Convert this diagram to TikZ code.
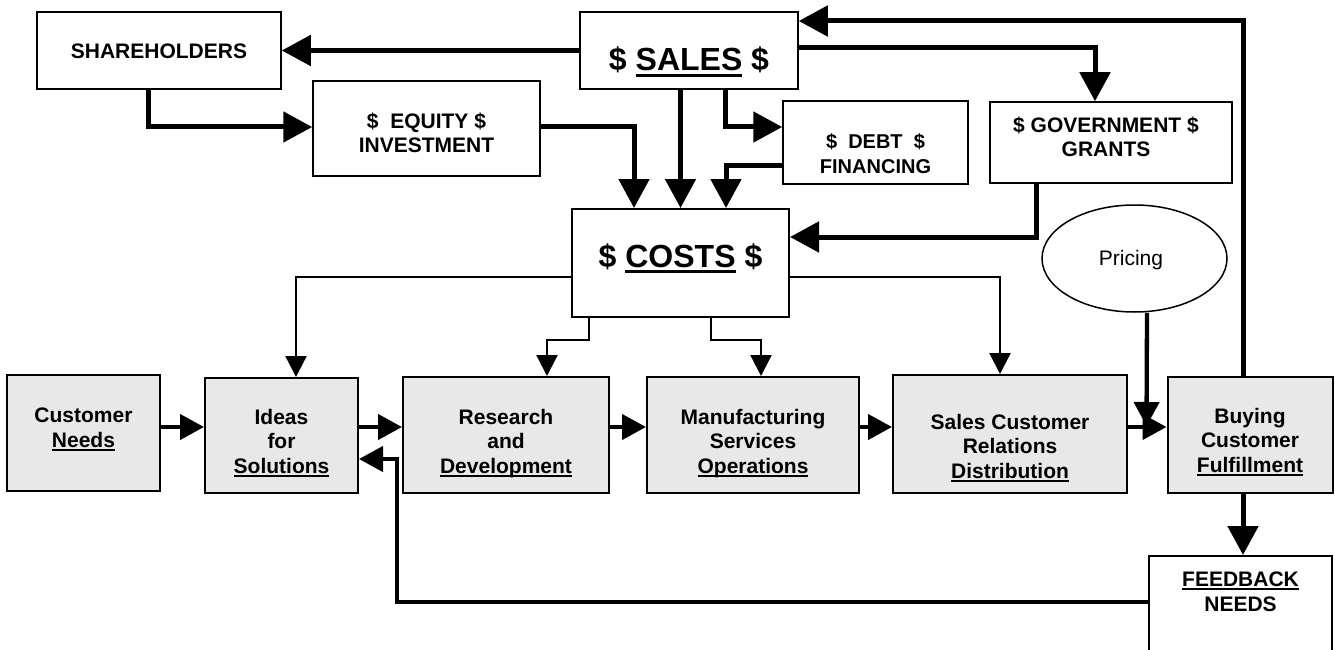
\documentclass[tikz,border=0pt]{standalone}
\usepackage{fontspec}
\setmainfont{Liberation Sans}
\usetikzlibrary{arrows.meta,shapes.geometric}
\definecolor{boxgray}{RGB}{232,232,232}
\newsavebox\ulbox
\newcommand{\ulw}[1]{\sbox\ulbox{#1}\rlap{\rule[-0.19em]{\wd\ulbox}{0.1em}}\usebox\ulbox}
\begin{document}
\begin{tikzpicture}[x=1pt,y=-1pt,
  box/.style={draw, line width=1.5pt, inner sep=0pt},
  gbox/.style={draw, fill=boxgray, line width=2pt, inner sep=0pt},
  lbl/.style={font=\fontsize{21}{24}\selectfont\bfseries, align=center, anchor=base, inner sep=0pt},
  dlbl/.style={font=\fontsize{20}{25}\selectfont\bfseries, align=center, anchor=base, inner sep=0pt},
  biglbl/.style={font=\fontsize{32}{36}\selectfont\bfseries, align=center, anchor=base, inner sep=0pt},
  blbl/.style={font=\fontsize{21}{24.5}\selectfont\bfseries, align=center, anchor=base, inner sep=0pt},
  plbl/.style={font=\fontsize{21}{24}\selectfont, anchor=base, inner sep=0pt},
  thk/.style={line width=5pt, -{Triangle[length=29pt,width=30pt]}},
  midar/.style={line width=4.3pt, -{Triangle[length=24pt,width=25pt]}},
  thn/.style={line width=2.3pt, -{Triangle[length=21pt,width=21pt]}}]
\useasboundingbox (0,0) rectangle (1335,650);
% boxes
\node[box, minimum width=244, minimum height=77] (sh) at (159,50.5) {};
\node[box, minimum width=218, minimum height=77] (sales) at (689,50.5) {};
\node[box, minimum width=227, minimum height=95] (eq) at (426.5,128.5) {};
\node[box, minimum width=185, minimum height=83] (debt) at (875.5,142.5) {};
\node[box, minimum width=242, minimum height=81] (gov) at (1111,142.5) {};
\node[box, line width=2pt, minimum width=217, minimum height=108] (costs) at (680.5,263) {};
\node[draw, ellipse, line width=1.5pt, inner sep=0pt, minimum width=185, minimum height=107] (pricing) at (1134.5,258.5) {};
\node[gbox, minimum width=153, minimum height=116] (cn) at (83.5,433) {};
\node[gbox, minimum width=153, minimum height=115] (ideas) at (281.5,435.5) {};
\node[gbox, minimum width=206, minimum height=116] (rd) at (506,435) {};
\node[gbox, minimum width=212, minimum height=116] (mfg) at (753,435) {};
\node[gbox, minimum width=234, minimum height=118] (scr) at (1010,434) {};
\node[gbox, minimum width=165, minimum height=116] (buy) at (1250,435) {};
\node[box, line width=2pt, minimum width=183, minimum height=120] (fb) at (1240.5,616) {};
% labels (multi-line: base = last line baseline)
\node[lbl] (shT) at (159,59) {SHAREHOLDERS};
\node[biglbl] (salesT) at (689,71) {\$ \ulw{SALES} \$};
\node[lbl] (eqT) at (426.5,152) {\$\ \ EQUITY \$\\INVESTMENT};
\node[dlbl] (debtT) at (875.5,173) {\$\ \ DEBT\ \ \$\\FINANCING};
\node[lbl] (govT) at (1106,156) {\$ GOVERNMENT \$\\GRANTS};
\node[biglbl] (costsT) at (680.5,267) {\$ \ulw{COSTS} \$};
\node[plbl] (priceT) at (1131,265) {Pricing};
\node[blbl] (cnT) at (83.5,447) {Customer\\\ulw{Needs}};
\node[blbl] (ideasT) at (281.5,473) {Ideas\\for\\\ulw{Solutions}};
\node[blbl] (rdT) at (506,473) {Research\\and\\\ulw{Development}};
\node[blbl] (mfgT) at (753,473) {Manufacturing\\Services\\\ulw{Operations}};
\node[blbl] (scrT) at (1010,478) {Sales Customer\\Relations\\\ulw{Distribution}};
\node[blbl] (buyT) at (1250,472) {Buying\\Customer\\\ulw{Fulfillment}};
\node[blbl] (fbT) at (1240.5,611) {\ulw{FEEDBACK}\\NEEDS};
% thick connectors
\draw[thk] (sales.west) -- (sh.east);
\draw[thk] ([xshift=-11]sh.south) |- ([yshift=1.5]eq.west);
\draw[thk] ([yshift=1.5]eq.east) -| ([xshift=-46.5]costs.north);
\draw[thk] (costs.north |- sales.south) -- (costs.north);
\draw[thk] ([xshift=36]sales.south) |- ([yshift=15.5]debt.west);
\draw[thk] ([yshift=-22.5]debt.west) -| ([xshift=45.5]costs.north);
\draw[thk] ([yshift=2.5]sales.east) -| ([xshift=-16]gov.north);
\draw[thk] ([xshift=-75]gov.south) |- ([yshift=26]costs.east);
\draw[thk] ([xshift=-7]buy.north) |- ([yshift=29.5]sales.east);
\draw[thk] ([xshift=-7]buy.south) -- ([xshift=2.5]fb.north);
\draw[midar] ([yshift=14]fb.west) -| ([xshift=38,yshift=-23.5]ideas.east) -- ([yshift=-23.5]ideas.east);
% process row
\draw[midar] ([yshift=6]cn.east) -- ([yshift=8.5]ideas.west);
\draw[midar] ([yshift=8.5]ideas.east) -- ([yshift=8]rd.west);
\draw[midar] ([yshift=8]rd.east) -- ([yshift=8]mfg.west);
\draw[midar] ([yshift=8]mfg.east) -- ([yshift=7]scr.west);
\draw[midar] ([yshift=7]scr.east) -- ([yshift=8]buy.west);
\draw[midar] ([xshift=12.5]pricing.south) -- ([xshift=-20,yshift=9]buy.west);
% thin cost branches
\draw[thn] ([yshift=-14]costs.west) -| ([xshift=14.5]ideas.north);
\draw[thn] ([yshift=-14]costs.east) -| ([xshift=-10]scr.north);
\draw[thn] ([xshift=-91.5]costs.south) -- ++(0,22) -| ([xshift=41]rd.north);
\draw[thn] ([xshift=30.5]costs.south) -- ++(0,22) -| ([xshift=8]mfg.north);
\end{tikzpicture}
\end{document}
